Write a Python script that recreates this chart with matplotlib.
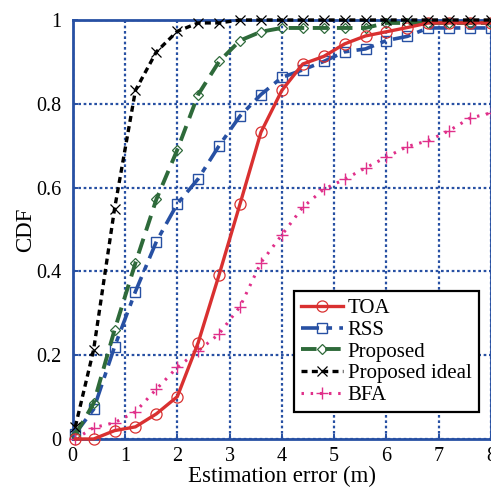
import numpy as np
import matplotlib
matplotlib.use("Agg")
import matplotlib.pyplot as plt

# error grid (m)
err = [0.05, 0.4, 0.8, 1.2, 1.6, 2.0, 2.4, 2.8, 3.2, 3.6, 4.0,
       4.4, 4.8, 5.2, 5.6, 6.0, 6.4, 6.8, 7.2, 7.6, 8.0]

cdf_toa = [0.0, 0.0, 0.02, 0.029, 0.06, 0.101, 0.23, 0.392, 0.561, 0.732, 0.832,
           0.895, 0.913, 0.943, 0.962, 0.972, 0.982, 0.993, 0.993, 0.993, 0.993]
cdf_rss = [0.013, 0.071, 0.22, 0.352, 0.471, 0.561, 0.621, 0.70, 0.771, 0.822, 0.863,
           0.881, 0.901, 0.924, 0.931, 0.951, 0.961, 0.981, 0.981, 0.981, 0.981]
cdf_prop = [0.01, 0.085, 0.26, 0.42, 0.572, 0.69, 0.822, 0.901, 0.951, 0.972, 0.981,
            0.981, 0.981, 0.981, 0.981, 0.993, 0.993, 0.993, 0.993, 0.993, 0.993]
cdf_ideal = [0.029, 0.213, 0.549, 0.832, 0.924, 0.973, 0.993, 0.993, 1.0, 1.0, 1.0,
             1.0, 1.0, 1.0, 1.0, 1.0, 1.0, 1.0, 1.0, 1.0, 1.0]
cdf_bfa = [0.0, 0.027, 0.039, 0.065, 0.119, 0.171, 0.21, 0.251, 0.316, 0.421, 0.487,
           0.553, 0.596, 0.62, 0.647, 0.673, 0.698, 0.712, 0.736, 0.766, 0.778]

labels = ["TOA", "RSS", "Proposed", "Proposed ideal", "BFA"]

plt.rcParams["font.family"] = ["Liberation Serif", "DejaVu Serif"]

blue = "#2750a3"

fig = plt.figure(figsize=(4.91, 4.88), dpi=100)
ax = fig.add_axes([72.7 / 491, (488 - 439) / 488, (491 - 72.7) / 491, 419 / 488])

ax.plot(err, cdf_toa, color="#d93030", lw=2.4, ls="-", marker="o", ms=8,
        mfc="none", mec="#d93030", mew=0.9, label=labels[0], clip_on=False, zorder=5)
ax.plot(err, cdf_rss, color=blue, lw=2.6, dashes=(5, 2, 1.6, 2), marker="s", ms=7,
        mfc="none", mec=blue, mew=1.0, label=labels[1], clip_on=False, zorder=4)
ax.plot(err, cdf_prop, color="#2e6a3a", lw=2.8, dashes=(4, 2.2), marker="D", ms=5,
        mfc="none", mec="#2e6a3a", mew=0.9, label=labels[2], clip_on=False, zorder=4)
ax.plot(err, cdf_ideal, color="black", lw=2.4, dashes=(1.8, 1.3), marker="x", ms=7,
        mec="black", mew=0.9, label=labels[3], clip_on=False, zorder=6)
ax.plot(err, cdf_bfa, color="#e0308a", lw=2.2, dashes=(0.8, 2.2), marker="+", ms=9,
        mec="#e0308a", mew=1.0, label=labels[4], clip_on=False, zorder=4)

ax.set_xlim(0, 8)
ax.set_ylim(0, 1)
ax.set_xticks(range(0, 9))
ax.set_yticks([0, 0.2, 0.4, 0.6, 0.8, 1.0])
ax.set_yticklabels(["0", "0.2", "0.4", "0.6", "0.8", "1"])
ax.tick_params(direction="in", length=3.5, width=1.4, color=blue, labelsize=14.5)
ax.tick_params(axis="x", pad=6)
ax.tick_params(axis="y", pad=8)

ax.grid(True, color=blue, ls=(0, (1.2, 1.2)), lw=1.6)
ax.set_axisbelow(True)
for sp in ax.spines.values():
    sp.set_color(blue)
    sp.set_linewidth(2.0)

ax.set_xlabel("Estimation error (m)", fontsize=16.5, labelpad=0)
ax.set_ylabel("CDF", fontsize=16.5, labelpad=0)

leg = ax.legend(loc="lower right", bbox_to_anchor=(0.971, 0.064), borderaxespad=0,
                fontsize=15, numpoints=1, handlelength=2.0, handletextpad=0.25,
                labelspacing=0.1, borderpad=0.35, fancybox=False, framealpha=1,
                edgecolor="black")
leg.get_frame().set_linewidth(1.6)
leg.set_zorder(10)

fig.savefig("out.png", dpi=100)
